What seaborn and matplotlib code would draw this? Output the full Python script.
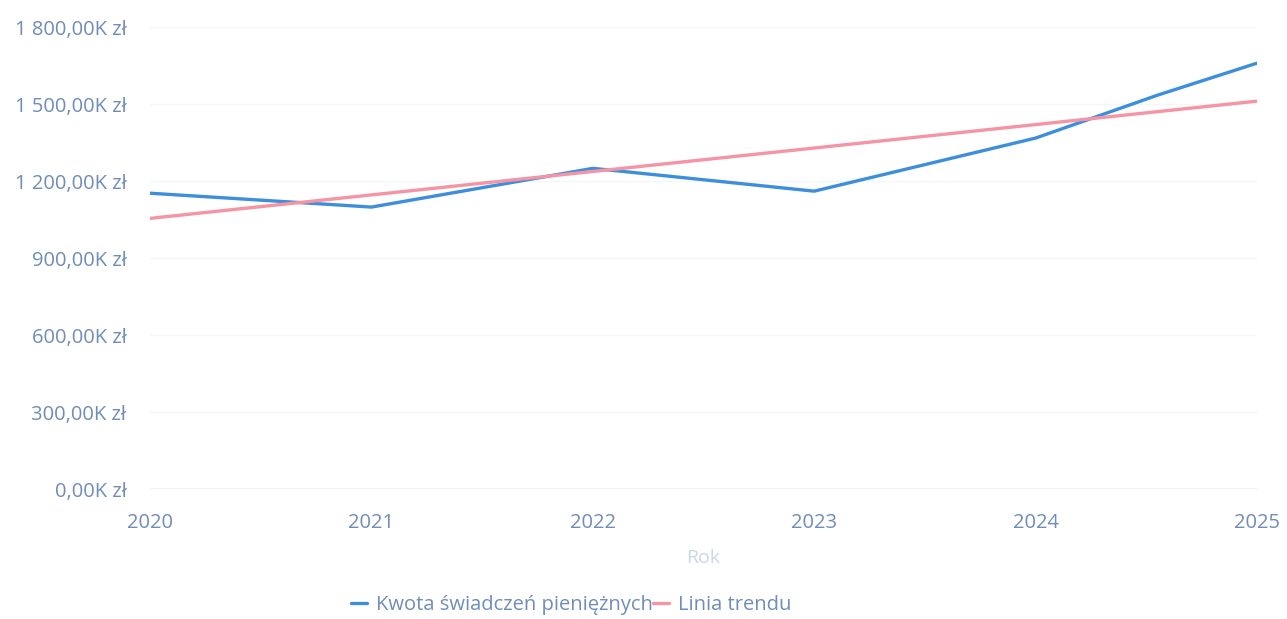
import numpy as np
import pandas as pd
import matplotlib
matplotlib.use("Agg")
import matplotlib.pyplot as plt
from matplotlib.ticker import FuncFormatter
import seaborn as sns

# values (thousands of zł)
years = [2020, 2021, 2022, 2023, 2024, 2024.55, 2025]
kwota = [1153, 1099, 1250, 1161, 1368, 1535, 1660]
trend_years = [2020, 2025]
trend = [1055, 1512]

sns.set_theme(style="white")
plt.rcParams['font.family'] = ['Open Sans', 'DejaVu Sans']

blue = "#3d8fdb"
pink = "#f594a5"
tick_col = "#6f8db8"

df = pd.DataFrame({"Rok": years, "Kwota": kwota})
df_t = pd.DataFrame({"Rok": trend_years, "Trend": trend})

fig = plt.figure(figsize=(12.87, 6.19), dpi=100)
ax = fig.add_axes([0.1166, 0.21, 0.8601, 0.746])

sns.lineplot(data=df, x="Rok", y="Kwota", ax=ax, color=blue, linewidth=2.4,
             label="Kwota świadczeń pieniężnych")
sns.lineplot(data=df_t, x="Rok", y="Trend", ax=ax, color=pink, linewidth=2.4,
             label="Linia trendu")

ax.set_xlim(2020, 2025)
ax.set_ylim(0, 1800)
ax.set_yticks(np.arange(0, 1801, 300))
ax.set_xticks(range(2020, 2026))


def fmt(v, pos):
    s = f"{v:,.2f}".replace(",", " ").replace(".", ",")
    return s + "K zł"


ax.yaxis.set_major_formatter(FuncFormatter(fmt))
ax.tick_params(axis="both", colors=tick_col, labelsize=14.5, length=0)
ax.tick_params(axis="y", pad=17)
ax.tick_params(axis="x", pad=17)
ax.grid(axis="y", color="#f4f6f9", linewidth=1)
for s in ax.spines.values():
    s.set_visible(False)
ax.axhline(0, color="#eef1f6", linewidth=1.2, zorder=0)

ax.set_xlabel("Rok", color="#cbd6e8", fontsize=14, labelpad=12)
ax.set_ylabel("")

leg = ax.legend(loc="center", bbox_to_anchor=(0.444, 0.022),
                bbox_transform=fig.transFigure, ncol=2, frameon=False,
                fontsize=14.5, handlelength=0.8, handletextpad=0.45,
                columnspacing=0.0)
for t in leg.get_texts():
    t.set_color(tick_col)

fig.savefig("out.png", dpi=100)
